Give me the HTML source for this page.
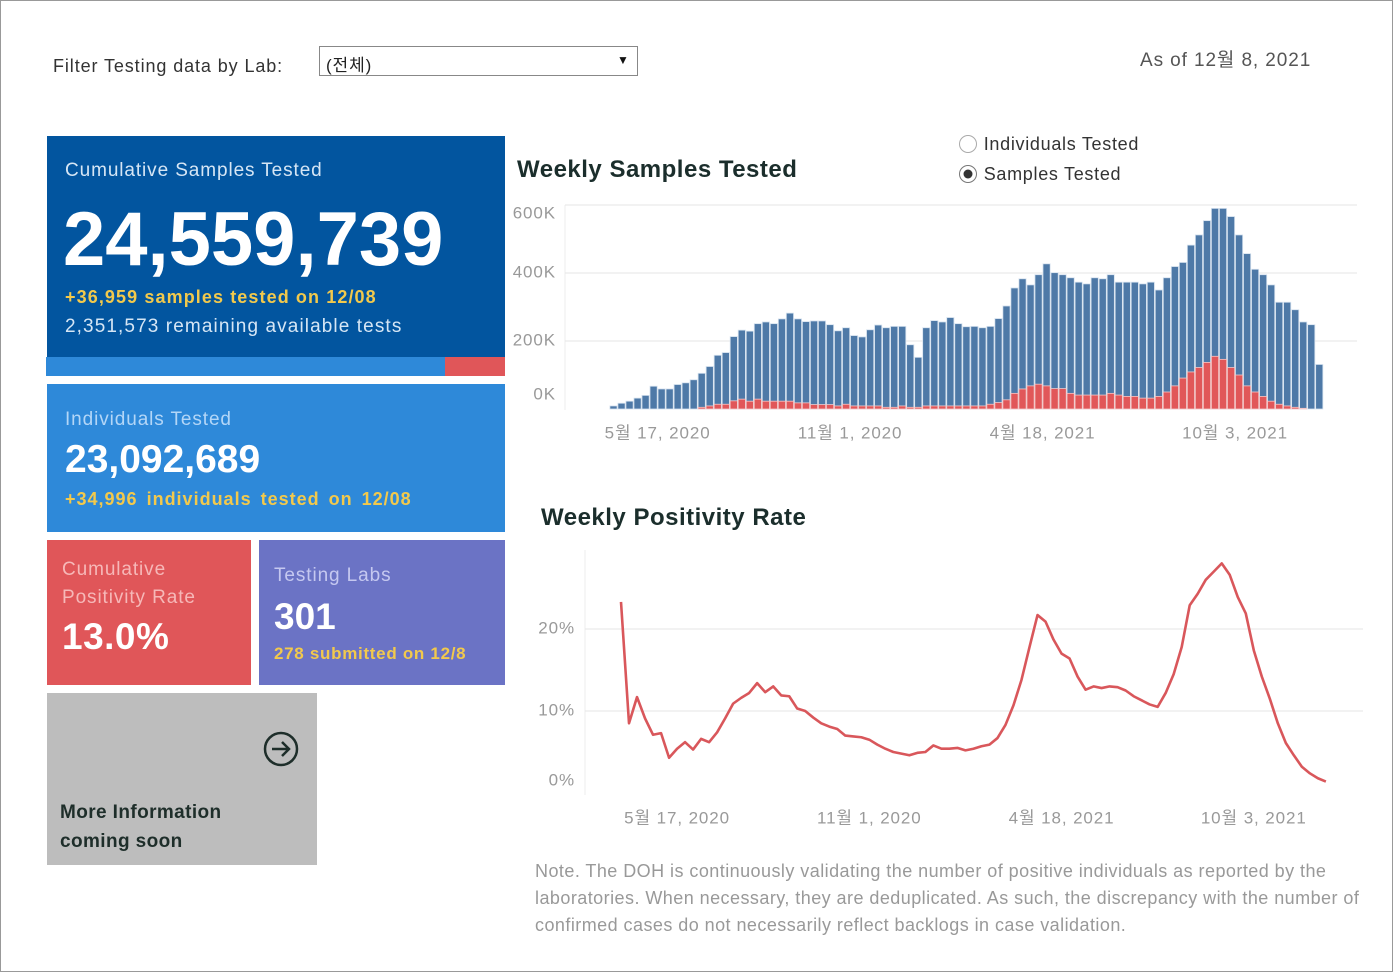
<!DOCTYPE html>
<html><head><meta charset="utf-8">
<style>
*{margin:0;padding:0;box-sizing:border-box}
body{width:1393px;height:972px;background:#fff;font-family:"Liberation Sans","Noto Sans CJK KR",sans-serif;position:relative;overflow:hidden;letter-spacing:0.9px}
#frame{position:absolute;left:0;top:0;width:1393px;height:972px;border:1px solid #999}
.abs{position:absolute;white-space:nowrap}
.panel{position:absolute}
.big{letter-spacing:0}
</style></head><body>
<div id="frame"></div>
<div class="abs" style="left:53px;top:56px;font-size:18px;color:#333">Filter Testing data by Lab:</div>
<div class="abs" style="left:319px;top:46px;width:319px;height:30px;border:1px solid #888;background:#fff">
<span class="abs" style="left:6px;top:4px;font-size:17px;color:#222">(전체)</span>
<span class="abs" style="left:297px;top:6px;font-size:12px;color:#111">▼</span>
</div>
<div class="abs" style="left:1140px;top:45px;font-size:19px;color:#555">As of 12월 8, 2021</div>

<div class="panel" style="left:47px;top:136px;width:458px;height:221px;background:#02559f">
<div class="abs" style="left:18px;top:24px;font-size:19px;color:#d6e6f5">Cumulative Samples Tested</div>
<div class="abs big" style="left:16px;top:60px;font-size:76px;font-weight:bold;color:#fff">24,559,739</div>
<div class="abs" style="left:18px;top:151px;font-size:18px;font-weight:bold;color:#f2c94c;letter-spacing:1.1px">+36,959 samples tested on 12/08</div>
<div class="abs" style="left:18px;top:180px;font-size:19px;color:#d6e6f5;letter-spacing:1.1px">2,351,573 remaining available tests</div>
</div>
<div class="panel" style="left:46px;top:357px;width:399px;height:19px;background:#2e89d9"></div>
<div class="panel" style="left:445px;top:357px;width:60px;height:19px;background:#e05659"></div>

<div class="panel" style="left:47px;top:384px;width:458px;height:148px;background:#2e89d9">
<div class="abs" style="left:18px;top:25px;font-size:19px;color:#b3d6f7">Individuals Tested</div>
<div class="abs big" style="left:18px;top:54px;font-size:39px;font-weight:bold;color:#fff">23,092,689</div>
<div class="abs" style="left:18px;top:105px;font-size:18px;font-weight:bold;color:#f2c94c;word-spacing:3px;letter-spacing:1px">+34,996 individuals tested on 12/08</div>
</div>

<div class="panel" style="left:47px;top:540px;width:204px;height:145px;background:#e05659">
<div class="abs" style="left:15px;top:16px;font-size:19px;line-height:28px;color:#f6b8b8;white-space:normal;width:150px">Cumulative Positivity Rate</div>
<div class="abs big" style="left:15px;top:76px;font-size:37px;font-weight:bold;color:#fff;letter-spacing:0.5px">13.0%</div>
</div>
<div class="panel" style="left:259px;top:540px;width:246px;height:145px;background:#6b73c5">
<div class="abs" style="left:15px;top:25px;font-size:19px;color:#c5c8f0">Testing Labs</div>
<div class="abs big" style="left:15px;top:56px;font-size:37px;font-weight:bold;color:#fff">301</div>
<div class="abs" style="left:15px;top:104px;font-size:17px;font-weight:bold;color:#f2c94c;letter-spacing:0.7px">278 submitted on 12/8</div>
</div>
<div class="panel" style="left:47px;top:693px;width:270px;height:172px;background:#bdbdbd">
<svg class="abs" style="left:216px;top:38px" width="36" height="36"><circle cx="18" cy="18" r="16" fill="none" stroke="#1e2e2a" stroke-width="2.5"/><path d="M9 18H26M19 11L26 18L19 25" fill="none" stroke="#1e2e2a" stroke-width="2.5"/></svg>
<div class="abs" style="left:13px;top:105px;font-size:19px;line-height:29px;font-weight:bold;color:#1e2e2a;letter-spacing:0.4px">More Information<br>coming soon</div>
</div>

<div class="abs" style="left:517px;top:156px;font-size:24px;font-weight:bold;color:#1b2e2c;letter-spacing:0.5px">Weekly Samples Tested</div>
<div class="abs" style="left:958px;top:134px;font-size:18px;color:#333;letter-spacing:0.7px"><svg width="20" height="20" style="vertical-align:-4px"><circle cx="10" cy="10" r="8.5" fill="#fff" stroke="#aaa"/></svg> Individuals Tested</div>
<div class="abs" style="left:958px;top:164px;font-size:18px;color:#333;letter-spacing:0.7px"><svg width="20" height="20" style="vertical-align:-4px"><circle cx="10" cy="10" r="8.5" fill="#fff" stroke="#777"/><circle cx="10" cy="10" r="4.5" fill="#333"/></svg> Samples Tested</div>
<div class="abs" style="left:541px;top:504px;font-size:24px;font-weight:bold;color:#1b2e2c;letter-spacing:0.5px">Weekly Positivity Rate</div>

<svg class="abs" style="left:0;top:0" width="1393" height="972" id="charts"></svg>

<div class="abs" style="left:535px;top:858px;font-size:18px;line-height:27px;color:#999;letter-spacing:0.45px">Note. The DOH is continuously validating the number of positive individuals as reported by the<br>laboratories. When necessary, they are deduplicated. As such, the discrepancy with the number of<br>confirmed cases do not necessarily reflect backlogs in case validation.</div>

<script>
const samplesK=[9,17,23,32,40,67,59,59,72,77,86,105,125,158,166,213,232,229,251,256,251,265,282,265,257,259,259,248,230,239,216,212,233,247,239,243,243,189,152,239,260,256,269,251,242,243,239,243,266,303,356,383,365,395,427,401,395,386,373,368,386,383,395,373,373,373,368,373,350,386,419,431,482,512,554,590,590,566,512,457,411,395,365,314,314,292,256,248,131];
const positiveK=[0,0,0,0,0,0,0,0,0,0,0,5,9,14,14,24,29,23,29,23,23,23,23,18,18,13,13,13,9,14,9,9,9,9,5,5,9,5,5,9,9,9,9,9,9,9,9,14,19,27,46,59,68,73,68,60,60,46,41,41,41,41,46,41,37,37,32,32,37,50,68,91,109,122,137,155,146,122,100,68,50,37,23,14,9,5,2,0,0];
const samplesTicks=[0,200,400,600];
const samplesTickLabels=["0K","200K","400K","600K"];
const samplesDateTicks=[5.5,29.5,53.5,77.5];
const dateLabels=["5월 17, 2020","11월 1, 2020","4월 18, 2021","10월 3, 2021"];
const positivity=[23.3,8.5,11.7,9.1,7.1,7.3,4.3,5.4,6.2,5.3,6.6,6.2,7.4,9.1,10.9,11.6,12.2,13.4,12.3,13.0,11.9,11.8,10.3,10.0,9.2,8.5,8.1,7.8,7.0,6.9,6.8,6.5,5.9,5.4,5.0,4.8,4.6,4.9,5.0,5.8,5.4,5.4,5.5,5.2,5.4,5.7,5.9,6.7,8.3,10.7,13.8,17.8,21.7,20.9,18.7,17.0,16.4,14.2,12.6,13.0,12.8,13.0,12.9,12.5,11.8,11.3,10.8,10.5,12.2,14.5,17.8,22.9,24.3,26.0,27.0,28.0,26.6,23.9,21.9,17.4,14.2,11.5,8.5,6.1,4.6,3.2,2.4,1.8,1.4];
const posTicks=[0,10,20];
const posTickLabels=["0%","10%","20%"];
const posDateTicks=[7,31,55,79];

const svg=document.getElementById('charts');
const NS='http://www.w3.org/2000/svg';
function mk(tag,attrs){const e=document.createElementNS(NS,tag);for(const k in attrs)e.setAttribute(k,attrs[k]);svg.appendChild(e);return e;}
function txt(x,y,s,anchor){const t=mk('text',{x:x,y:y,'font-size':17,fill:'#999','text-anchor':anchor,'dominant-baseline':'middle','letter-spacing':'0.9','font-family':'Liberation Sans, Noto Sans CJK KR, sans-serif'});t.textContent=s;return t;}

// Bar chart
const bx=i=>613.5+i*8.02;
const by=v=>409-v*(204/600);
mk('line',{x1:565,y1:205,x2:565,y2:410,stroke:'#eee'});
samplesTicks.forEach((v,k)=>{
  if(v>0){const g=mk('line',{x1:565,x2:1357,y1:by(v),y2:by(v),stroke:'#e6e6e6'});
  
  }
  const t=txt(556,Math.min(Math.max(by(v),214),395),samplesTickLabels[k],'end');
  
  
});
samplesK.forEach((v,i)=>{
  const r=mk('rect',{x:bx(i)-3.6,y:by(v),width:7.2,height:409-by(v),fill:'#4e79a7',stroke:'#d6e2ef','stroke-width':0.8});
  
  
  const p=positiveK[i];
  if(p>0){const q=mk('rect',{x:bx(i)-3.6,y:by(p),width:7.2,height:409-by(p),fill:'#e15759',stroke:'#f3c8c8','stroke-width':0.8});
  
  }
});
samplesDateTicks.forEach((d,k)=>{
  const t=txt(bx(d),434,dateLabels[k],'middle');
  
  
});

// Line chart
const lx=i=>621+i*8.01;
const ly=v=>793-v*8.2;
mk('line',{x1:585,y1:550,x2:585,y2:795,stroke:'#eee'});
posTicks.forEach((v,k)=>{
  if(v>0){const g=mk('line',{x1:585,x2:1363,y1:ly(v),y2:ly(v),stroke:'#e6e6e6'});
  
  }
  const t=txt(575,Math.min(ly(v),781),posTickLabels[k],'end');
  
  
});
const pl=mk('polyline',{points:positivity.map((v,i)=>lx(i)+','+ly(v)).join(' '),fill:'none',stroke:'#d9575b','stroke-width':2.6,'stroke-linejoin':'round'});


posDateTicks.forEach((d,k)=>{
  const t=txt(lx(d),819,dateLabels[k],'middle');
  
  
});
</script>
</body></html>
